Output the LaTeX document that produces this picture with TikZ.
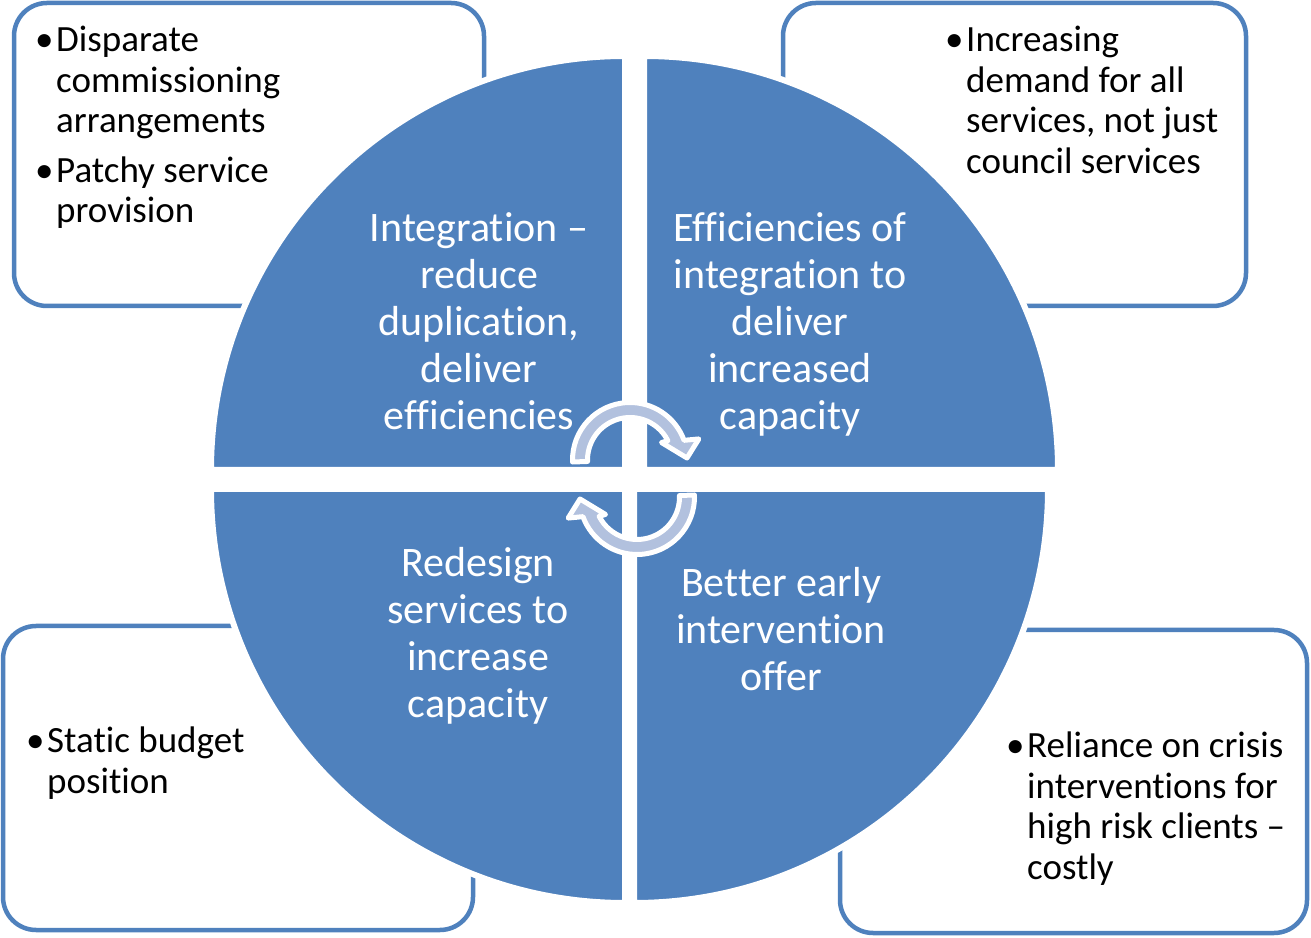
\documentclass[tikz,border=0pt]{standalone}
\usepackage{fontspec}
\setmainfont{Carlito}[Ligatures={TeX,NoCommon}]
\usetikzlibrary{calc}
\definecolor{quadblue}{RGB}{79,129,189}
\definecolor{arrowblue}{RGB}{178,193,222}
\newcommand{\boxfont}{\fontsize{37}{40.5}\selectfont}
\newcommand{\quadfont}{\fontsize{42}{46.8}\selectfont}
\newcommand{\bul}{\makebox[21pt][l]{\textbullet}}
\tikzset{
  infobox/.style={draw=quadblue, line width=4.5pt, rounded corners=33pt, fill=white, inner sep=0pt},
  quadrant/.style={fill=quadblue, draw=white, line width=6pt},
  boxtext/.style={anchor=base west, inner sep=0pt, font=\boxfont},
  quadtext/.style={anchor=base, inner sep=0pt, font=\quadfont, text=white},
  cyclearrow/.style={fill=arrowblue, draw=white, line width=5pt, line join=round}
}

\begin{document}
\begin{tikzpicture}[x=1pt, y=1pt]
\useasboundingbox (0,0) rectangle (1311,937);

% corner boxes
\node[infobox, minimum width=470pt, minimum height=303pt] (tlbox) at (249,782.5) {};
\node[infobox, minimum width=463pt, minimum height=303pt] (trbox) at (1014.5,782.5) {};
\node[infobox, minimum width=470pt, minimum height=304pt] (blbox) at (238,159) {};
\node[infobox, minimum width=467pt, minimum height=303pt] (brbox) at (1073.5,155.5) {};

\node[boxtext] (tltext) at (35,885) {\begin{tabular}[t]{@{}l@{}l@{}}
\bul & Disparate\\ & commissioning\\ & arrangements\\[9pt]
\bul & Patchy service\\ & provision\end{tabular}};
\node[boxtext] (trtext) at (945,885) {\begin{tabular}[t]{@{}l@{}l@{}}
\bul & Increasing\\ & demand for all\\ & services, not just\\ & council services\end{tabular}};
\node[boxtext] (bltext) at (26,184) {\begin{tabular}[t]{@{}l@{}l@{}}
\bul & Static budget\\ & position\end{tabular}};
\node[boxtext] (brtext) at (1006,179) {\begin{tabular}[t]{@{}l@{}l@{}}
\bul & Reliance on crisis\\ & interventions for\\ & high risk clients --\\ & costly\end{tabular}};

% quadrants
\draw[quadrant] (625,467) -- (211,467) arc[start angle=180, end angle=90, radius=414] -- cycle;
\draw[quadrant] (644,467) -- (644,881) arc[start angle=90, end angle=0, radius=414] -- cycle;
\draw[quadrant] (625,448) -- (211,448) arc[start angle=180, end angle=270, radius=414] -- cycle;
\draw[quadrant] (634,448) -- (1048,448) arc[start angle=0, end angle=-90, radius=414] -- cycle;

\node[quadtext] (tlquad) at (479,695) {\begin{tabular}[t]{@{}c@{}}
Integration --\\ reduce\\ duplication,\\ deliver\\ efficiencies\end{tabular}};
\node[quadtext] (trquad) at (790,695) {\begin{tabular}[t]{@{}c@{}}
Efficiencies of\\ integration to\\ deliver\\ increased\\ capacity\end{tabular}};
\node[quadtext] (blquad) at (478,360) {\begin{tabular}[t]{@{}c@{}}
Redesign\\ services to\\ increase\\ capacity\end{tabular}};
\node[quadtext] (brquad) at (781,340) {\begin{tabular}[t]{@{}c@{}}
Better early\\ intervention\\ offer\end{tabular}};

% circular arrows in the middle
\foreach \cx/\cy/\rot in {630/477/0, 637/440/180} {
  \begin{scope}[shift={(\cx,\cy)}, rotate=\rot]
  \draw[cyclearrow] (182:57.5) arc[start angle=182, end angle=20, radius=57.5]
    -- (17:72) -- (57,2) -- (29:36) -- (27:42.5)
    arc[start angle=27, end angle=182, radius=42.5] -- cycle;
  \end{scope}
}
\end{tikzpicture}
\end{document}
